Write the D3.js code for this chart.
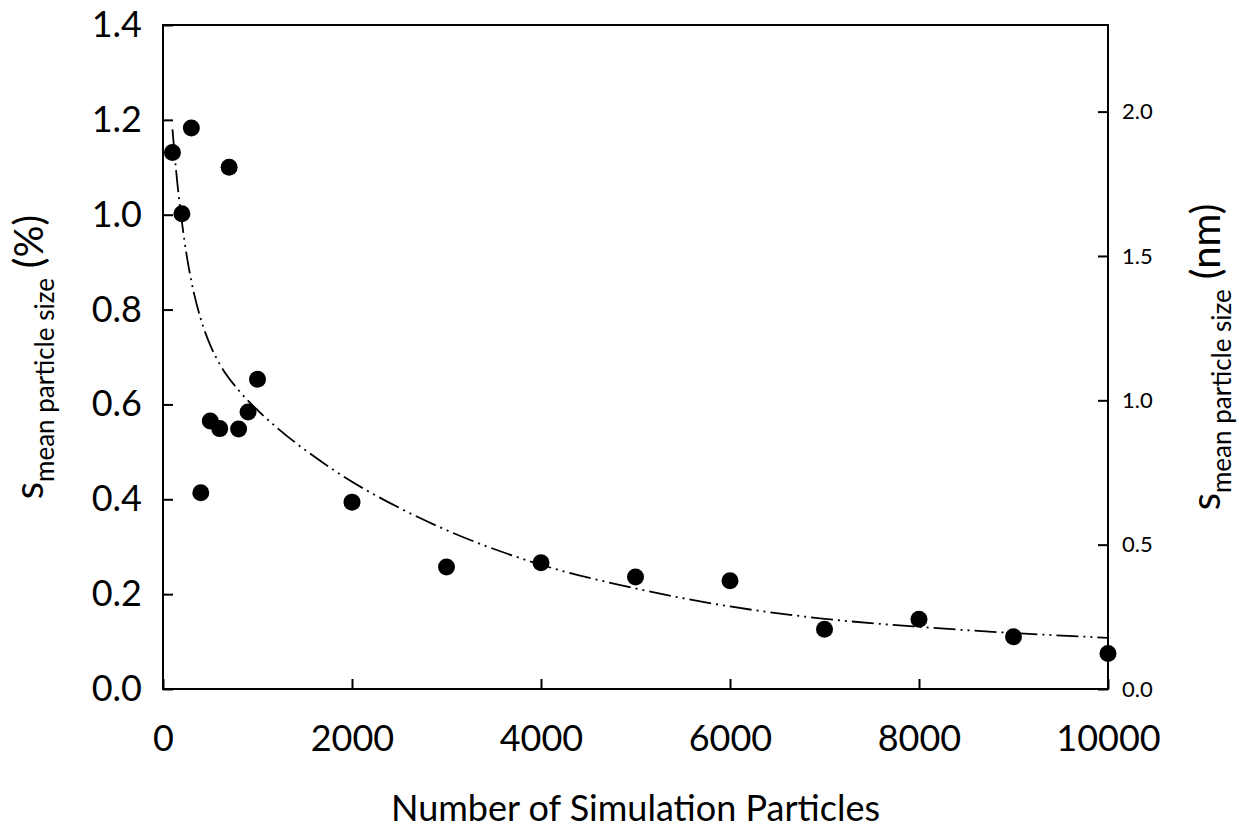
<!DOCTYPE html>
<head>
  <meta charset="utf-8">
  <title>Mean particle size vs simulation particles</title>
  <script src="https://d3js.org/d3.v7.min.js"></script>
  <style type="text/css">
  body {
      margin: 0;
      background: #fff;
    }
  text {
      font-family: Lato, "Open Sans", sans-serif;
      fill: #000;
    }
  .axis path, .axis line {
      stroke: #000;
      stroke-width: 2px;
    }
  </style>
</head>
<body>
  <script type="text/javascript">

    // Measured points
    var particles = [100, 200, 300, 400, 500, 600, 700, 800, 900, 1000, 2000, 3000, 4000, 5000, 6000, 7000, 8000, 9000, 10000];
    var sdPercent = [1.131, 1.002, 1.183, 0.414, 0.565, 0.549, 1.100, 0.548, 0.584, 0.653, 0.394, 0.257, 0.266, 0.236, 0.228, 0.126, 0.147, 0.110, 0.075];

    // Fitted curve
    var fitX = [100, 150, 200, 250, 300, 400, 500, 600, 800, 1000, 1200, 1600, 2000, 2500, 3000, 4000, 5000, 6000, 7000, 8000, 9000, 10000];
    var fitY = [1.18, 1.07, 0.985, 0.915, 0.86, 0.78, 0.725, 0.685, 0.630, 0.588, 0.552, 0.490, 0.437, 0.382, 0.335, 0.262, 0.212, 0.174, 0.148, 0.131, 0.118, 0.108];

    // Tick values
    var xTicks = [0, 2000, 4000, 6000, 8000, 10000];
    var yTicks = [0, 0.2, 0.4, 0.6, 0.8, 1.0, 1.2, 1.4];
    var y2Ticks = [0, 0.5, 1.0, 1.5, 2.0];

    var margin = {top: 25, right: 131, bottom: 142, left: 163},
      width = 1239 - margin.left - margin.right,
      height = 831 - margin.top - margin.bottom;

    var x = d3.scaleLinear().domain([0, 10000]).range([0, width]);
    var y = d3.scaleLinear().domain([0, 1.4]).range([height, 0]);
    var y2 = d3.scaleLinear().domain([0, 2.3]).range([height, 0]);

    var svg = d3.select("body").append("svg")
      .attr("width", 1239)
      .attr("height", 831)
      .append("g")
      .attr("transform", "translate(" + margin.left + "," + margin.top + ")");

    // Frame
    svg.append("rect")
      .attr("width", width)
      .attr("height", height)
      .attr("fill", "none")
      .attr("stroke", "#000")
      .attr("stroke-width", 2);

    // Bottom axis
    svg.append("g")
      .attr("class", "axis")
      .attr("transform", "translate(0," + height + ")")
      .style("font-size", "36px")
      .call(d3.axisBottom(x).tickValues(xTicks).tickFormat(d3.format("d"))
        .tickSize(-10).tickSizeOuter(0).tickPadding(36));

    // Left axis
    svg.append("g")
      .attr("class", "axis")
      .style("font-size", "36px")
      .call(d3.axisLeft(y).tickValues(yTicks).tickFormat(d3.format(".1f"))
        .tickSize(-10).tickSizeOuter(0).tickPadding(21));

    // Right axis
    svg.append("g")
      .attr("class", "axis")
      .attr("transform", "translate(" + width + ",0)")
      .style("font-size", "22px")
      .call(d3.axisRight(y2).tickValues(y2Ticks).tickFormat(d3.format(".1f"))
        .tickSize(-10).tickSizeOuter(0).tickPadding(14));

    svg.selectAll(".axis text").attr("font-family", "Lato, sans-serif");
    svg.selectAll(".axis .domain").remove();

    // Fit line
    var line = d3.line()
      .x(function(d, i) { return x(fitX[i]); })
      .y(function(d) { return y(d); })
      .curve(d3.curveMonotoneX);

    svg.append("path")
      .datum(fitY)
      .attr("d", line)
      .attr("fill", "none")
      .attr("stroke", "#000")
      .attr("stroke-width", 1.8)
      .attr("stroke-dasharray", "22,5,2,5,2,5");

    // Points
    svg.selectAll(".dot")
      .data(sdPercent)
      .enter().append("circle")
      .attr("class", "dot")
      .attr("cx", function(d, i) { return x(particles[i]); })
      .attr("cy", function(d) { return y(d); })
      .attr("r", 8.5)
      .attr("fill", "#000");

    // X label
    svg.append("text")
      .attr("x", width / 2)
      .attr("y", 796)
      .attr("text-anchor", "middle")
      .style("font-size", "36px")
      .text("Number of Simulation Particles");

    // Y labels (left and right)
    function yLabel(xPos, unit) {
      var t = svg.append("text")
        .attr("transform", "translate(" + xPos + "," + (height / 2) + ") rotate(-90)")
        .attr("text-anchor", "middle")
        .style("font-size", "40px");
      t.append("tspan").text("s");
      t.append("tspan").attr("dy", 11).style("font-size", "26px").text("mean particle size");
      t.append("tspan").attr("dy", -11).attr("dx", 10).text("(" + unit + ")");
    }
    yLabel(43 - margin.left, "%");
    yLabel(1220 - margin.left, "nm");

  </script>
</body>
</html>
